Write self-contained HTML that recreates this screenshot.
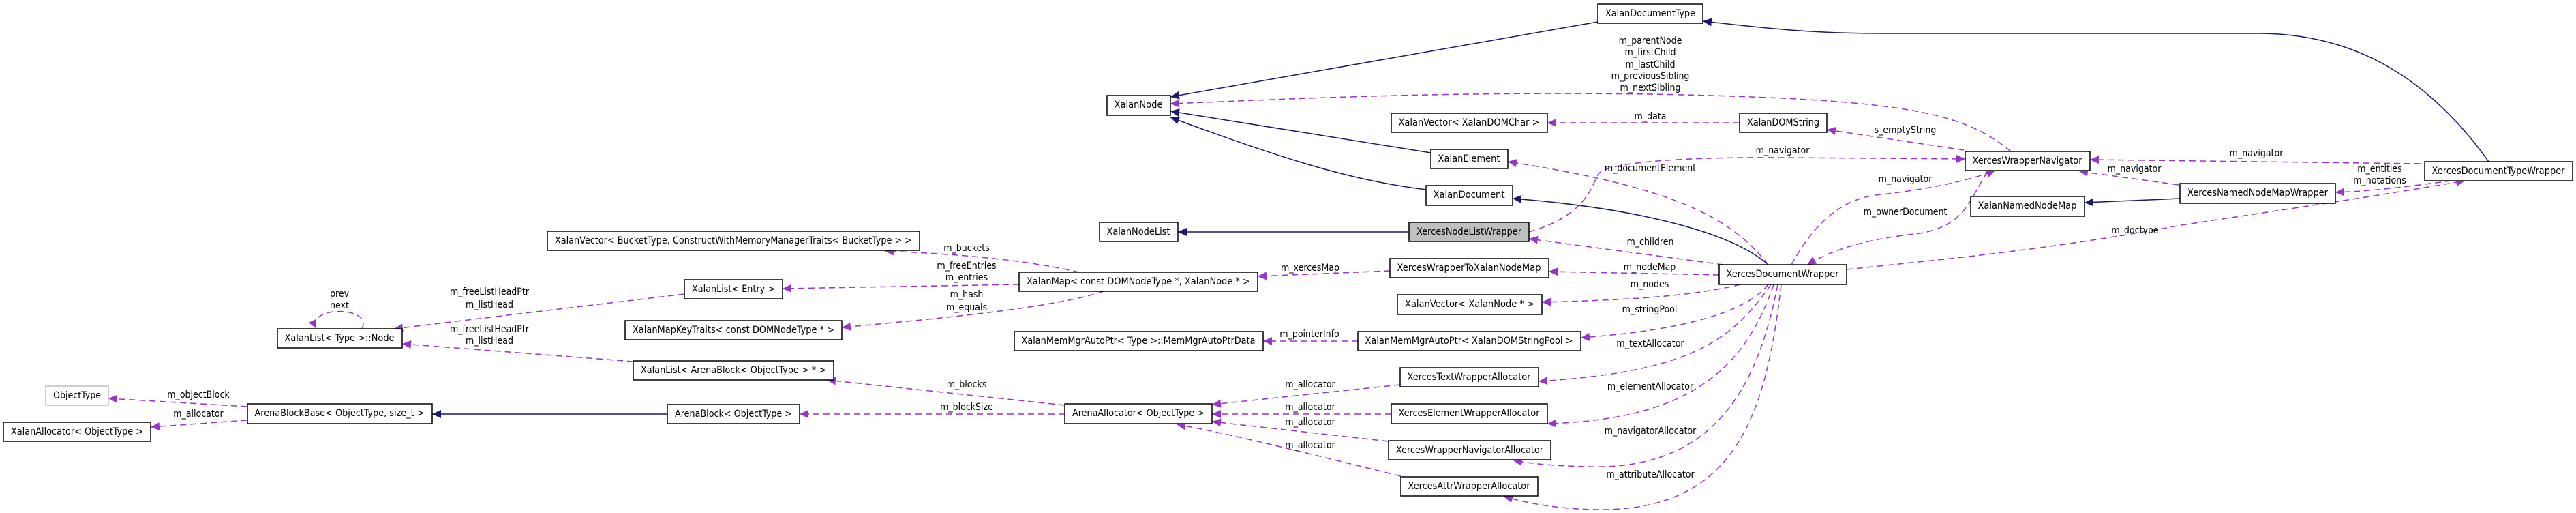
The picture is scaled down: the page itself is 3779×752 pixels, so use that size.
<!DOCTYPE html>
<html><head><meta charset="utf-8"><style>
html,body{margin:0;padding:0;background:#fff;}
svg{display:block;}
text{font-family:"DejaVu Sans Condensed","DejaVu Sans","Liberation Sans",sans-serif;font-size:14px;fill:#000;}
.n{fill:#fff;stroke:#000;stroke-width:1.5;}
.nv{fill:none;stroke:#191970;stroke-width:1.5;}
.pu{fill:none;stroke:#9a32cd;stroke-width:1.5;stroke-dasharray:9,6;}
</style></head><body>
<svg width="3779" height="752" viewBox="0 0 3779 752" xmlns="http://www.w3.org/2000/svg">
<defs>
<marker id="an" markerUnits="userSpaceOnUse" markerWidth="14" markerHeight="12" refX="13" refY="6" orient="auto"><path d="M0,0 L13,6 L0,12 z" fill="#191970"/></marker>
<marker id="ap" markerUnits="userSpaceOnUse" markerWidth="14" markerHeight="12" refX="13" refY="6" orient="auto"><path d="M0,0 L13,6 L0,12 z" fill="#9a32cd"/></marker>
</defs>

<!-- navy edges -->
<g class="nv" marker-end="url(#an)">
<path d="M2344,32 L1717,142"/>
<path d="M2099,224 L1717,163"/>
<path d="M2092,278 C1990,265 1900,240 1717,172"/>
<path d="M2067,340 L1728,340"/>
<path d="M979,607 L634,607"/>
<path d="M3651,237 C3560,110 3450,49 3313,49 L2760,49 C2650,49 2580,40 2498,31"/>
<path d="M2594,388 C2540,340 2400,305 2219,291"/>
<path d="M3198,291 L3058,297"/>
</g>

<!-- purple edges -->
<g class="pu" marker-end="url(#ap)">
<path d="M2950,222 C2880,165 2800,145 2421,138 C2100,134 1900,145 1717,152"/>
<path d="M2552,180 L2270,180"/>
<path d="M2881,220 L2680,190"/>
<path d="M2243,340 C2330,315 2335,270 2345,255 C2360,235 2500,230 2615,231 L2883,233"/>
<path d="M2594,388 C2540,320 2460,275 2212,237"/>
<path d="M2528,388 L2243,350"/>
<path d="M2522,403 L2272,398"/>
<path d="M2553,417 C2480,435 2380,440 2262,443"/>
<path d="M2628,388 C2660,330 2700,290 2760,285 C2850,275 2900,260 2927,250"/>
<path d="M2915,253 C2890,290 2885,330 2817,342 C2740,350 2690,365 2651,388"/>
<path d="M2709,395 C2850,380 3000,367 3200,330 C3400,300 3500,285 3616,265"/>
<path d="M2594,417 C2560,460 2460,485 2319,495"/>
<path d="M2598,417 C2540,500 2480,545 2257,559"/>
<path d="M2602,417 C2560,540 2480,615 2270,621"/>
<path d="M2608,417 C2580,560 2520,690 2330,684 C2280,683 2250,680 2220,675"/>
<path d="M2613,417 C2590,620 2540,750 2341,747 C2290,746 2250,740 2206,728"/>
<path d="M3551,240 L3066,234"/>
<path d="M3196,271 L3050,251"/>
<path d="M3596,265 C3520,275 3480,280 3426,282"/>
<path d="M2039,397 L1845,405"/>
<path d="M1992,500 L1853,500"/>
<path d="M2054,564 L1778,593"/>
<path d="M2041,607 L1778,607"/>
<path d="M2037,647 L1778,618"/>
<path d="M2055,698 C1900,660 1800,635 1726,622"/>
<path d="M1583,399 C1500,380 1400,372 1298,368"/>
<path d="M1495,417 L1148,423"/>
<path d="M1619,427 C1550,450 1400,465 1235,480"/>
<path d="M1562,594 L1213,557"/>
<path d="M1562,607 L1173,607"/>
<path d="M1004,431 L578,482"/>
<path d="M929,530 L590,504"/>
<path d="M531,482 C548,448 448,448 464,482"/>
<path d="M363,596 L159,584"/>
<path d="M363,616 L221,626"/>
</g>

<!-- nodes -->
<g>
<rect class="n" x="2344" y="6" width="154" height="28"/>
<rect class="n" x="1624" y="140" width="93" height="29"/>
<rect class="n" x="2041" y="166" width="229" height="28"/>
<rect class="n" x="2552" y="166" width="128" height="28"/>
<rect class="n" x="2099" y="219" width="113" height="28"/>
<rect class="n" x="2883" y="222" width="183" height="28"/>
<rect class="n" x="2092" y="272" width="127" height="29"/>
<rect class="n" x="2891" y="288" width="167" height="29"/>
<rect class="n" x="3198" y="269" width="228" height="29"/>
<rect class="n" x="3557" y="237" width="217" height="28"/>
<rect class="n" x="1613" y="326" width="115" height="28"/>
<rect class="n" x="2067" y="326" width="176" height="28" style="fill:#bfbfbf"/>
<rect class="n" x="2039" y="379" width="233" height="28"/>
<rect class="n" x="2522" y="388" width="187" height="29"/>
<rect class="n" x="2050" y="432" width="212" height="29"/>
<rect class="n" x="1992" y="486" width="327" height="28"/>
<rect class="n" x="2054" y="539" width="203" height="28"/>
<rect class="n" x="2041" y="592" width="229" height="29"/>
<rect class="n" x="2037" y="646" width="238" height="28"/>
<rect class="n" x="2055" y="699" width="201" height="28"/>
<rect class="n" x="803" y="339" width="546" height="28"/>
<rect class="n" x="1004" y="410" width="144" height="28"/>
<rect class="n" x="1495" y="399" width="350" height="28"/>
<rect class="n" x="917" y="470" width="318" height="28"/>
<rect class="n" x="1488" y="486" width="365" height="28"/>
<rect class="n" x="407" y="482" width="183" height="28"/>
<rect class="n" x="929" y="529" width="294" height="28"/>
<rect class="n" x="67" y="566" width="92" height="28" style="stroke:#bfbfbf"/>
<rect class="n" x="363" y="592" width="271" height="29"/>
<rect class="n" x="979" y="593" width="194" height="28"/>
<rect class="n" x="1562" y="592" width="216" height="29"/>
<rect class="n" x="5" y="619" width="216" height="28"/>
</g>

<g text-anchor="middle" dominant-baseline="central" lengthAdjust="spacingAndGlyphs">
<text x="2421" y="20" textLength="132" lengthAdjust="spacingAndGlyphs">XalanDocumentType</text>
<text x="1670" y="154" textLength="71" lengthAdjust="spacingAndGlyphs">XalanNode</text>
<text x="2155" y="180" textLength="207" lengthAdjust="spacingAndGlyphs">XalanVector&lt; XalanDOMChar &gt;</text>
<text x="2616" y="180" textLength="106" lengthAdjust="spacingAndGlyphs">XalanDOMString</text>
<text x="2155" y="233" textLength="91" lengthAdjust="spacingAndGlyphs">XalanElement</text>
<text x="2974" y="236" textLength="161" lengthAdjust="spacingAndGlyphs">XercesWrapperNavigator</text>
<text x="2155" y="286" textLength="105" lengthAdjust="spacingAndGlyphs">XalanDocument</text>
<text x="2974" y="302" textLength="145" lengthAdjust="spacingAndGlyphs">XalanNamedNodeMap</text>
<text x="3312" y="283" textLength="206" lengthAdjust="spacingAndGlyphs">XercesNamedNodeMapWrapper</text>
<text x="3665" y="251" textLength="195" lengthAdjust="spacingAndGlyphs">XercesDocumentTypeWrapper</text>
<text x="1670" y="340" textLength="93" lengthAdjust="spacingAndGlyphs">XalanNodeList</text>
<text x="2155" y="340" textLength="154" lengthAdjust="spacingAndGlyphs">XercesNodeListWrapper</text>
<text x="2155" y="393" textLength="211" lengthAdjust="spacingAndGlyphs">XercesWrapperToXalanNodeMap</text>
<text x="2615" y="402" textLength="165" lengthAdjust="spacingAndGlyphs">XercesDocumentWrapper</text>
<text x="2156" y="446" textLength="190" lengthAdjust="spacingAndGlyphs">XalanVector&lt; XalanNode * &gt;</text>
<text x="2155" y="500" textLength="305" lengthAdjust="spacingAndGlyphs">XalanMemMgrAutoPtr&lt; XalanDOMStringPool &gt;</text>
<text x="2155" y="553" textLength="181" lengthAdjust="spacingAndGlyphs">XercesTextWrapperAllocator</text>
<text x="2155" y="606" textLength="207" lengthAdjust="spacingAndGlyphs">XercesElementWrapperAllocator</text>
<text x="2156" y="660" textLength="216" lengthAdjust="spacingAndGlyphs">XercesWrapperNavigatorAllocator</text>
<text x="2155" y="713" textLength="179" lengthAdjust="spacingAndGlyphs">XercesAttrWrapperAllocator</text>
<text x="1076" y="353" textLength="524" lengthAdjust="spacingAndGlyphs">XalanVector&lt; BucketType, ConstructWithMemoryManagerTraits&lt; BucketType &gt; &gt;</text>
<text x="1076" y="424" textLength="122" lengthAdjust="spacingAndGlyphs">XalanList&lt; Entry &gt;</text>
<text x="1670" y="413" textLength="328" lengthAdjust="spacingAndGlyphs">XalanMap&lt; const DOMNodeType *, XalanNode * &gt;</text>
<text x="1076" y="484" textLength="296" lengthAdjust="spacingAndGlyphs">XalanMapKeyTraits&lt; const DOMNodeType * &gt;</text>
<text x="1670" y="500" textLength="343" lengthAdjust="spacingAndGlyphs">XalanMemMgrAutoPtr&lt; Type &gt;::MemMgrAutoPtrData</text>
<text x="498" y="496" textLength="161" lengthAdjust="spacingAndGlyphs">XalanList&lt; Type &gt;::Node</text>
<text x="1076" y="543" textLength="272" lengthAdjust="spacingAndGlyphs">XalanList&lt; ArenaBlock&lt; ObjectType &gt; * &gt;</text>
<text x="113" y="580" textLength="70" lengthAdjust="spacingAndGlyphs">ObjectType</text>
<text x="498" y="606" textLength="249" lengthAdjust="spacingAndGlyphs">ArenaBlockBase&lt; ObjectType, size_t &gt;</text>
<text x="1076" y="607" textLength="172" lengthAdjust="spacingAndGlyphs">ArenaBlock&lt; ObjectType &gt;</text>
<text x="1670" y="606" textLength="194" lengthAdjust="spacingAndGlyphs">ArenaAllocator&lt; ObjectType &gt;</text>
<text x="113" y="633" textLength="194" lengthAdjust="spacingAndGlyphs">XalanAllocator&lt; ObjectType &gt;</text>
</g>

<!-- edge labels -->
<g text-anchor="middle" dominant-baseline="central">
<text x="498" y="431">prev</text>
<text x="498" y="448">next</text>
<text x="718" y="428">m_freeListHeadPtr</text>
<text x="718" y="447">m_listHead</text>
<text x="718" y="483">m_freeListHeadPtr</text>
<text x="718" y="500">m_listHead</text>
<text x="291" y="579">m_objectBlock</text>
<text x="291" y="607">m_allocator</text>
<text x="1418" y="364">m_buckets</text>
<text x="1418" y="390">m_freeEntries</text>
<text x="1418" y="407">m_entries</text>
<text x="1418" y="432">m_hash</text>
<text x="1418" y="451">m_equals</text>
<text x="1418" y="564">m_blocks</text>
<text x="1418" y="597">m_blockSize</text>
<text x="1922" y="393">m_xercesMap</text>
<text x="1921" y="490">m_pointerInfo</text>
<text x="1922" y="564">m_allocator</text>
<text x="1922" y="597">m_allocator</text>
<text x="1922" y="619">m_allocator</text>
<text x="1922" y="653">m_allocator</text>
<text x="2421" y="60">m_parentNode</text>
<text x="2421" y="77">m_firstChild</text>
<text x="2421" y="95">m_lastChild</text>
<text x="2421" y="112">m_previousSibling</text>
<text x="2421" y="129">m_nextSibling</text>
<text x="2421" y="171">m_data</text>
<text x="2795" y="191">s_emptyString</text>
<text x="2615" y="221">m_navigator</text>
<text x="2421" y="247">m_documentElement</text>
<text x="2795" y="263">m_navigator</text>
<text x="2795" y="311">m_ownerDocument</text>
<text x="2421" y="355">m_children</text>
<text x="2420" y="392">m_nodeMap</text>
<text x="2420" y="417">m_nodes</text>
<text x="2420" y="454">m_stringPool</text>
<text x="2421" y="504">m_textAllocator</text>
<text x="2421" y="567">m_elementAllocator</text>
<text x="2421" y="632">m_navigatorAllocator</text>
<text x="2421" y="696">m_attributeAllocator</text>
<text x="3310" y="225">m_navigator</text>
<text x="3131" y="248">m_navigator</text>
<text x="3491" y="248">m_entities</text>
<text x="3491" y="265">m_notations</text>
<text x="3132" y="338">m_doctype</text>
</g>
</svg>
</body></html>
